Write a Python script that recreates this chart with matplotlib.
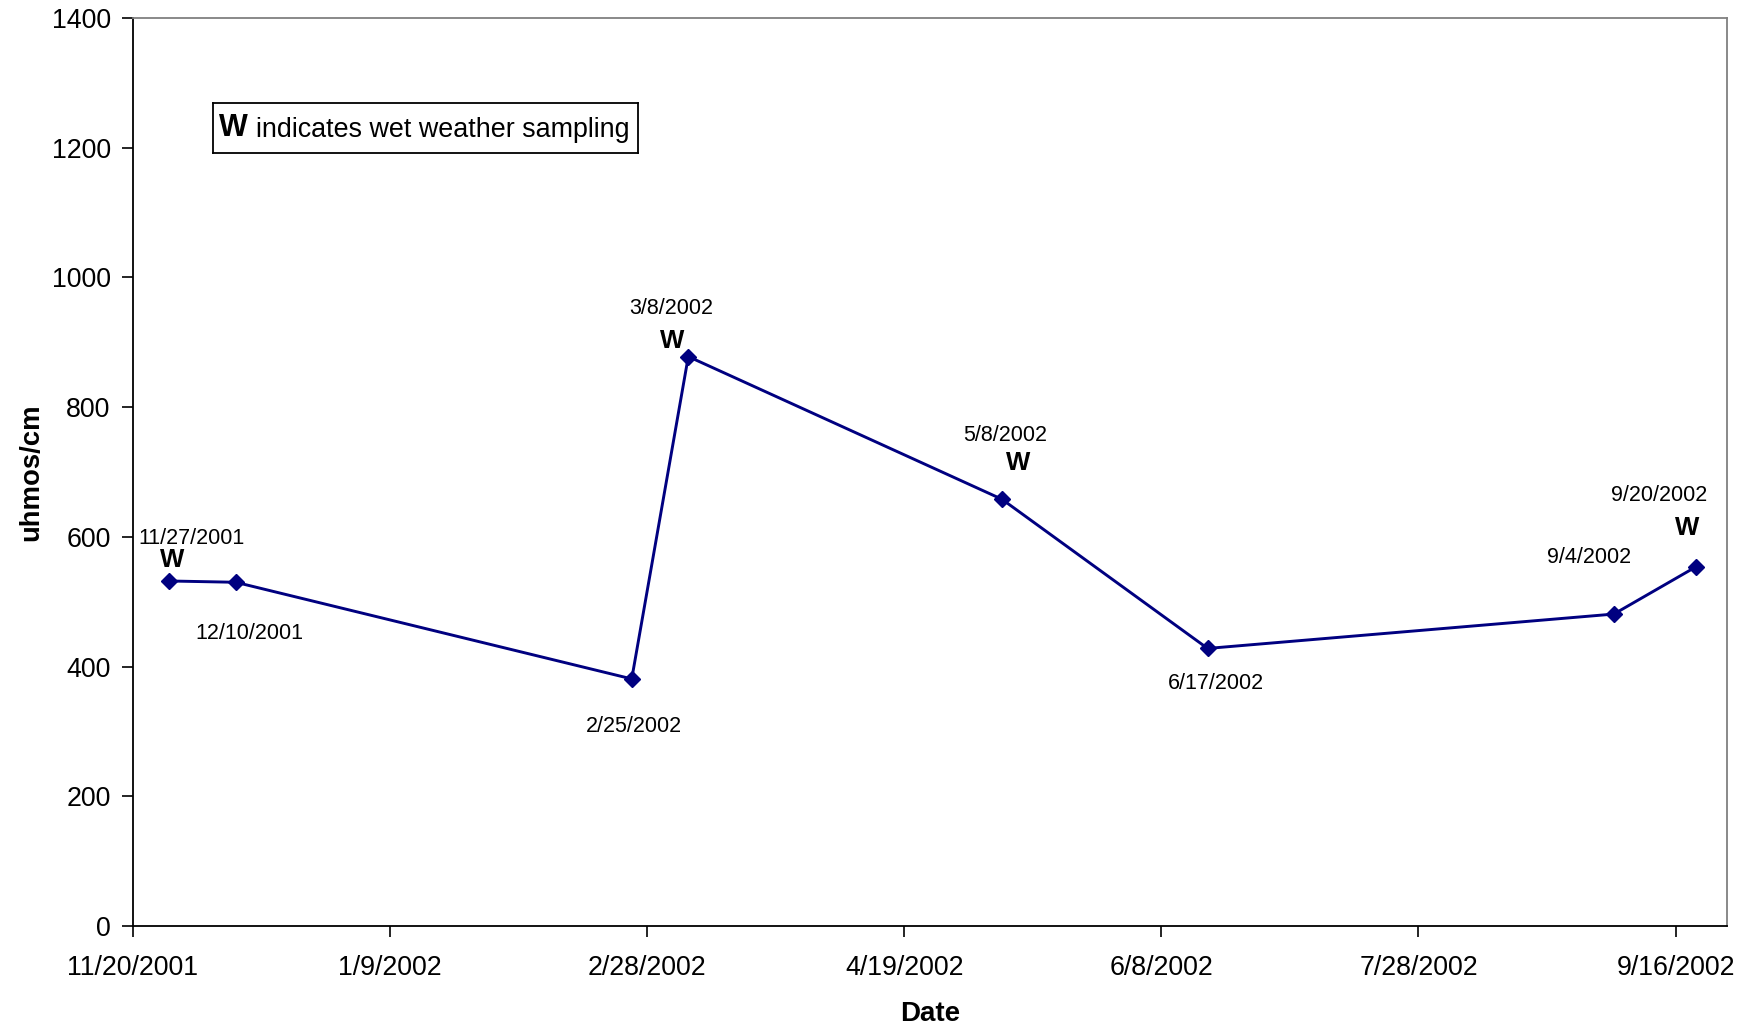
import datetime as dt
import matplotlib
matplotlib.use("Agg")
import matplotlib.pyplot as plt
import matplotlib.dates as mdates
from matplotlib.ticker import FuncFormatter, MultipleLocator

plt.rcParams['font.family'] = ['Liberation Sans', 'DejaVu Sans']

# Sampling dates, conductivity readings and wet-weather flags
sample_dates = ["11/27/2001", "12/10/2001", "2/25/2002", "3/8/2002",
                "5/8/2002", "6/17/2002", "9/4/2002", "9/20/2002"]
conductivity = [532, 530, 381, 878, 658, 428, 481, 554]
wet_weather = [True, False, False, True, True, False, False, True]

x_start = "11/20/2001"
x_end = "9/26/2002"
tick_step_days = 50


def parse(s):
    return dt.datetime.strptime(s, "%m/%d/%Y")


def mdy(d):
    return f"{d.month}/{d.day}/{d.year}"


dates = [parse(s) for s in sample_dates]
xnum = mdates.date2num(dates)

# Label placement (pixel offsets from each marker): date label, W label
label_offsets = {
    "11/27/2001": ((23, 42), (3, 21)),
    "12/10/2001": ((14, -51), None),
    "2/25/2002": ((2, -48), None),
    "3/8/2002": ((-17, 48), (-16, 16)),
    "5/8/2002": ((3, 64), (16, 36)),
    "6/17/2002": ((8, -35), None),
    "9/4/2002": ((-25, 57), None),
    "9/20/2002": ((-37, 71), (-9, 39)),
}

fig = plt.figure(figsize=(17.54, 10.27), dpi=100)
ax = fig.add_axes([0.0758, 0.0983, 0.9088, 0.8842])

ax.plot(xnum, conductivity, color="#000080", lw=2.1, marker="D",
        markersize=8, markerfacecolor="#000080", markeredgecolor="#000080",
        zorder=3)

for s, x, y, wet in zip(sample_dates, xnum, conductivity, wet_weather):
    date_off, w_off = label_offsets[s]
    ax.annotate(s, (x, y), xytext=date_off, textcoords="offset pixels",
                ha="center", va="center", fontsize=15.5, color="black")
    if wet and w_off is not None:
        ax.annotate("W", (x, y), xytext=w_off, textcoords="offset pixels",
                    ha="center", va="center", fontsize=18.5, fontweight="bold",
                    color="black")

x0 = mdates.date2num(parse(x_start))
x1 = mdates.date2num(parse(x_end))
ax.set_xlim(x0, x1)
ax.set_ylim(0, 1400)
ax.xaxis.set_major_locator(MultipleLocator(tick_step_days, offset=x0 % tick_step_days))
ax.xaxis.set_major_formatter(FuncFormatter(lambda v, p: mdy(mdates.num2date(v))))
ax.yaxis.set_major_locator(MultipleLocator(200))

ax.tick_params(axis="both", direction="out", length=8, width=1.2,
               labelsize=19.3, colors="black")
ax.tick_params(axis="x", pad=13)
ax.tick_params(axis="y", pad=8)

for side in ("left", "bottom"):
    ax.spines[side].set_color("black")
    ax.spines[side].set_linewidth(1.3)
for side in ("top", "right"):
    ax.spines[side].set_color("#808080")
    ax.spines[side].set_linewidth(1.3)

ax.set_xlabel("Date", fontsize=20, fontweight="bold", labelpad=14)
ax.set_ylabel("uhmos/cm", fontsize=19.8, fontweight="bold", labelpad=5)

# Note box explaining the W marker
box_ax = fig.add_axes([212.7 / 1754, 1 - 152.7 / 1027, (638 - 212.7) / 1754,
                       (152.7 - 103.3) / 1027])
box_ax.set_xticks([])
box_ax.set_yticks([])
for sp in box_ax.spines.values():
    sp.set_color("black")
    sp.set_linewidth(1.3)
box_ax.text(0.015, 0.5, "W", fontsize=22, fontweight="bold",
            ha="left", va="center", transform=box_ax.transAxes)
box_ax.text(0.102, 0.45, "indicates wet weather sampling", fontsize=19.4,
            ha="left", va="center", transform=box_ax.transAxes)

fig.savefig("out.png", dpi=100)
